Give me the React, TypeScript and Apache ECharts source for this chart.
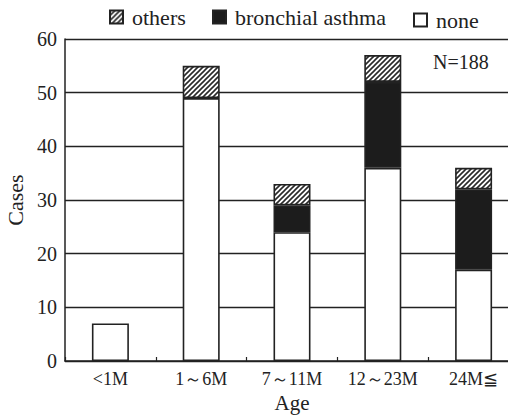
import React, { useEffect, useRef } from "react";
import * as echarts from "echarts";

const categories = ["<1M", "1～6M", "7～11M", "12～23M", "24M≦"];
const noneValues = [7, 49, 24, 36, 17];
const asthmaValues = [0, 0, 5, 16, 15];
const othersValues = [0, 6, 4, 5, 4];
const yTicks = { min: 0, max: 60, interval: 10 };
const annotation = "N=188";
const legendNames = ["others", "bronchial asthma", "none"];

const FONT = "Liberation Serif";
const INK = "#222";

function hatchPattern(): HTMLCanvasElement {
  const c = document.createElement("canvas");
  const s = 5;
  c.width = s;
  c.height = s;
  const g = c.getContext("2d")!;
  g.fillStyle = "#fff";
  g.fillRect(0, 0, s, s);
  g.strokeStyle = "#2a2a2a";
  g.lineWidth = 1.6;
  g.beginPath();
  g.moveTo(-1, s + 1);
  g.lineTo(s + 1, -1);
  g.moveTo(-1, 1);
  g.lineTo(1, -1);
  g.moveTo(s - 1, s + 1);
  g.lineTo(s + 1, s - 1);
  g.stroke();
  return c;
}

const nz = (arr: number[]) => arr.map((v) => (v === 0 ? "-" : v));

export default function App() {
  const ref = useRef<HTMLDivElement>(null);
  useEffect(() => {
    if (!ref.current) return;
    const chart = echarts.init(ref.current, null, { renderer: "svg" });
    const barBase = {
      type: "bar" as const,
      stack: "total",
      barWidth: 37,
      emphasis: { disabled: true },
    };
    const legendLefts = [109, 212, 413];
    const legendTops = [6, 6, 9];
    chart.setOption({
      animation: false,
      backgroundColor: "#fff",
      textStyle: { fontFamily: FONT, color: INK },
      legend: legendNames.map((n, i) => ({
        left: legendLefts[i],
        top: legendTops[i],
        icon: "rect",
        itemWidth: 13,
        itemHeight: 13,
        padding: 0,
        selectedMode: false,
        data: [n],
        textStyle: { fontFamily: FONT, fontSize: 22, color: INK, padding: [0, 0, 0, 4] },
      })),
      grid: {
        left: 65,
        right: -11,
        top: 39,
        bottom: 57,
        containLabel: false,
        outerBoundsMode: "none",
      },
      xAxis: {
        type: "category",
        data: categories,
        name: "Age",
        nameLocation: "middle",
        nameGap: 31,
        nameTextStyle: { fontFamily: FONT, fontSize: 21, color: INK },
        axisLine: { lineStyle: { color: INK, width: 1.5 } },
        axisTick: { show: true, inside: true, length: 4, lineStyle: { color: INK, width: 1.2 } },
        axisLabel: { fontFamily: FONT, fontSize: 18, color: INK, margin: 9, interval: 0 },
      },
      yAxis: {
        type: "value",
        min: yTicks.min,
        max: yTicks.max,
        interval: yTicks.interval,
        name: "Cases",
        nameLocation: "middle",
        nameGap: 32,
        nameTextStyle: { fontFamily: FONT, fontSize: 22, color: INK },
        axisLine: { show: true, lineStyle: { color: INK, width: 1.5 } },
        axisTick: { show: false },
        axisLabel: { fontFamily: FONT, fontSize: 20, color: INK, margin: 8 },
        splitLine: { show: true, lineStyle: { color: INK, width: 1.4 } },
      },
      graphic: [
        {
          type: "text",
          left: 433,
          top: 52,
          style: { text: annotation, fontFamily: FONT, fontSize: 20, fill: INK },
        },
      ],
      series: [
        {
          ...barBase,
          name: "none",
          data: nz(noneValues),
          itemStyle: { color: "#fff", borderColor: INK, borderWidth: 1.6 },
        },
        {
          ...barBase,
          name: "bronchial asthma",
          data: nz(asthmaValues),
          itemStyle: { color: "#1c1c1c", borderColor: INK, borderWidth: 1.6 },
        },
        {
          ...barBase,
          name: "others",
          data: nz(othersValues),
          itemStyle: {
            color: { image: hatchPattern(), repeat: "repeat" },
            borderColor: INK,
            borderWidth: 1.6,
          },
        },
      ],
    });
    return () => chart.dispose();
  }, []);
  return (
    <div
      ref={ref}
      style={{ width: 508, height: 418, position: "absolute", left: 0, top: 0 }}
    />
  );
}
